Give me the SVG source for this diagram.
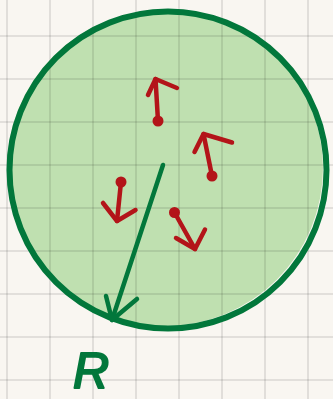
<svg xmlns="http://www.w3.org/2000/svg" width="333" height="399" viewBox="0 0 333 399">
  <style>
    .grid line { stroke: #000; stroke-opacity: 0.12; stroke-width: 1.6; }
    .vec { fill: none; stroke: #b31419; stroke-width: 4.5; stroke-linecap: round; stroke-linejoin: round; }
    .dot { fill: #b31419; }
    .rad { fill: none; stroke: #02773b; stroke-width: 4.5; stroke-linecap: round; stroke-linejoin: round; }
    .lbl { font-family: "Liberation Sans", Arial, sans-serif; font-size: 50px; font-style: italic; fill: #02773b; stroke: #02773b; stroke-width: 2; stroke-linejoin: round; }
  </style>
  <rect x="0" y="0" width="333" height="399" fill="#f9f6f1"/>
  <g id="sphere">
    <circle cx="165" cy="168" r="158" fill="#bfe0b0"/>
  </g>
  <g class="grid">
    <line x1="7" y1="0" x2="7" y2="399"/>
    <line x1="50" y1="0" x2="50" y2="399"/>
    <line x1="93" y1="0" x2="93" y2="399"/>
    <line x1="136" y1="0" x2="136" y2="399"/>
    <line x1="179" y1="0" x2="179" y2="399"/>
    <line x1="222" y1="0" x2="222" y2="399"/>
    <line x1="265" y1="0" x2="265" y2="399"/>
    <line x1="308" y1="0" x2="308" y2="399"/>
    <line x1="0" y1="36" x2="333" y2="36"/>
    <line x1="0" y1="79" x2="333" y2="79"/>
    <line x1="0" y1="122" x2="333" y2="122"/>
    <line x1="0" y1="165" x2="333" y2="165"/>
    <line x1="0" y1="208" x2="333" y2="208"/>
    <line x1="0" y1="251" x2="333" y2="251"/>
    <line x1="0" y1="294" x2="333" y2="294"/>
    <line x1="0" y1="337" x2="333" y2="337"/>
    <line x1="0" y1="380" x2="333" y2="380"/>
  </g>
  <g id="boundary">
    <circle cx="168" cy="170" r="158.5" fill="none" stroke="#02773b" stroke-width="6"/>
  </g>
  <g id="connectors">
    <g id="radius">
      <path class="rad" d="M163,165 L112,320"/>
      <path class="rad" d="M106,296 L112,320 L137,299"/>
    </g>
  </g>
  <g id="particle1">
    <path class="vec" d="M158,121 L155.5,79"/>
    <path class="vec" d="M148,95 L155.5,79 L177,88"/>
    <circle class="dot" cx="158" cy="121" r="5.5"/>
  </g>
  <g id="particle2">
    <path class="vec" d="M212,176 L203.5,134"/>
    <path class="vec" d="M194.5,152 L203.5,134 L232,142.5"/>
    <circle class="dot" cx="212" cy="176" r="5.5"/>
  </g>
  <g id="particle3">
    <path class="vec" d="M121,182 L117,221"/>
    <path class="vec" d="M103,203 L117,221 L135.5,210"/>
    <circle class="dot" cx="121" cy="182" r="5.5"/>
  </g>
  <g id="particle4">
    <path class="vec" d="M174.5,212.5 L195,249"/>
    <path class="vec" d="M176,238 L195,249 L205,229.5"/>
    <circle class="dot" cx="174.5" cy="212.5" r="5.5"/>
  </g>
  <g id="label-R">
    <text class="lbl" x="73" y="388">R</text>
  </g>
</svg>
